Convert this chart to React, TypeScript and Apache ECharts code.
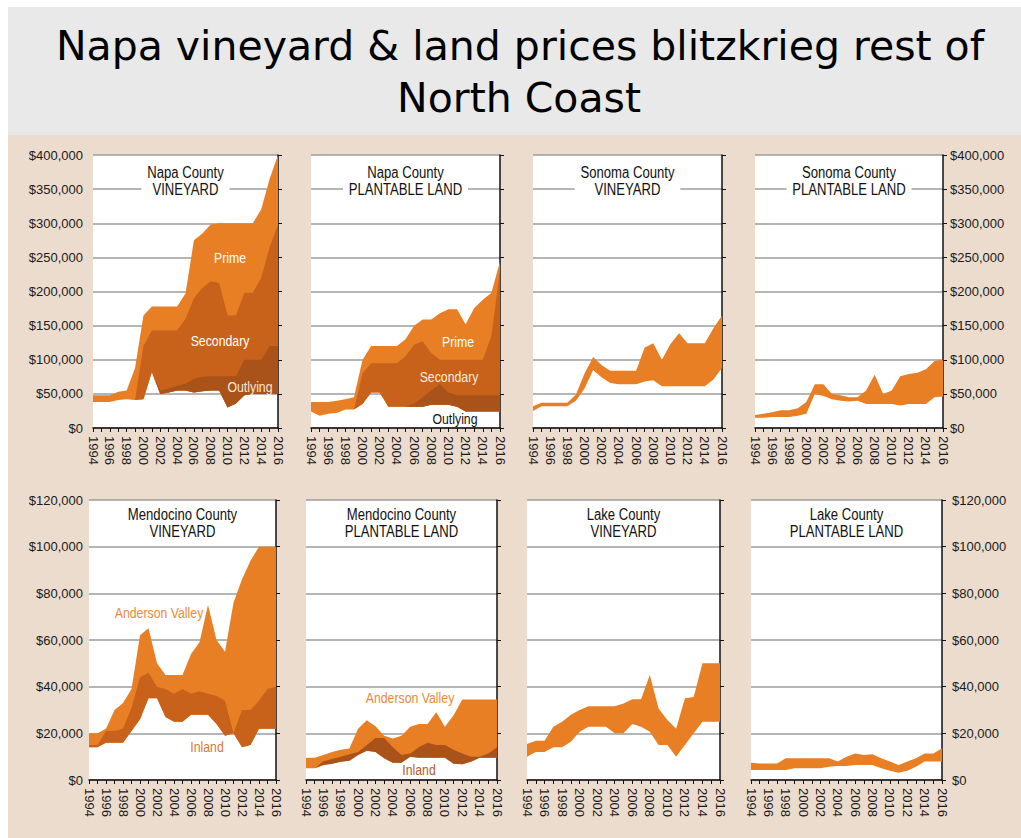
import React, { useEffect, useRef } from 'react';
import * as echarts from 'echarts';

// ---------- categories ----------
const YEARS = ['1994', '1995', '1996', '1997', '1998', '1999', '2000', '2001', '2002', '2003', '2004', '2005', '2006', '2007', '2008', '2009', '2010', '2011', '2012', '2013', '2014', '2015', '2016'];

// ---------- values (thousands of dollars per acre) ----------
// Napa County vineyard
const napaVinFloor = [38, 38, 38, 41, 42, 41, 42, 82, 50, 52, 55, 55, 52, 54, 55, 55, 30, 36, 48, 50, 50, 50, 50];
const napaVinPrimeTop = [48, 48, 48, 53, 55, 88, 165, 178, 178, 178, 178, 197, 275, 285, 298, 300, 300, 300, 300, 300, 320, 365, 400];
const napaVinSecondaryTop = [38, 38, 38, 41, 42, 41, 120, 143, 143, 143, 143, 160, 190, 205, 215, 213, 165, 165, 198, 198, 220, 265, 298];
const napaVinOutlyingTop = [38, 38, 38, 41, 42, 41, 42, 82, 55, 58, 62, 65, 72, 75, 76, 76, 76, 76, 100, 100, 100, 120, 120];

// Napa County plantable land
const napaLandFloor = [24, 18, 21, 22, 27, 27, 35, 52, 52, 31, 31, 31, 31, 31, 34, 34, 34, 31, 24, 24, 24, 24, 24];
const napaLandPrimeTop = [38, 38, 38, 40, 42, 45, 100, 120, 120, 120, 120, 130, 150, 159, 159, 168, 174, 174, 152, 176, 188, 198, 244];
const napaLandSecondaryTop = [24, 18, 21, 22, 27, 27, 80, 95, 95, 95, 95, 105, 122, 127, 110, 100, 100, 100, 100, 100, 100, 135, 231];
const napaLandOutlyingTop = [24, 18, 21, 22, 27, 27, 35, 52, 52, 31, 31, 31, 36, 45, 55, 64, 52, 48, 48, 48, 48, 48, 48];

// Sonoma County vineyard
const sonomaVinLow = [25, 32, 32, 32, 32, 40, 58, 85, 74, 66, 64, 64, 64, 68, 70, 61, 61, 61, 61, 61, 61, 71, 88];
const sonomaVinHigh = [32, 37, 37, 37, 37, 49, 80, 104, 92, 84, 84, 84, 84, 118, 124, 100, 123, 139, 124, 124, 124, 146, 165];

// Sonoma County plantable land
const sonomaLandLow = [15, 15, 16, 16, 16, 18, 21, 50, 47, 42, 40, 39, 40, 35, 35, 35, 35, 33, 35, 35, 35, 45, 46];
const sonomaLandHigh = [19, 21, 23, 26, 26, 29, 38, 64, 64, 50, 48, 45, 45, 55, 78, 50, 55, 76, 79, 81, 86, 98, 100];

// Mendocino County vineyard
const mendoVinFloor = [14, 14, 16, 16, 16, 21, 26, 35, 35, 27, 25, 25, 28, 28, 28, 24, 19, 20, 14, 15, 22, 22, 22];
const mendoVinAndersonTop = [20, 20, 22, 30, 33, 39, 62, 65, 50, 45, 45, 45, 54, 59, 75, 60, 55, 76, 86, 94, 100, 100, 100];
const mendoVinInlandTop = [15, 15, 21, 21, 22, 31, 44, 46, 40, 39, 37, 39, 37, 38, 37, 36, 34, 20, 30, 30, 34, 39, 40];

// Mendocino County plantable land
const mendoLandFloor = [5, 5, 6.4, 7, 7.8, 8.3, 10.7, 12.5, 12, 9.3, 7.4, 7.4, 10, 9.5, 9.5, 9.5, 9.5, 7, 6.8, 7.8, 9.5, 9.5, 9.5];
const mendoLandAndersonTop = [9.5, 9.5, 10.7, 12, 13, 13.5, 22, 25.6, 23, 19, 17.8, 19, 22.8, 24, 24, 29, 22.8, 27.8, 34.5, 34.5, 34.5, 34.5, 34.5];
const mendoLandInlandTop = [5, 5, 8, 9, 10, 11, 12, 15, 18, 18, 14, 10.7, 11.4, 14, 16, 15, 15, 13, 11.4, 10, 10, 11.4, 14];

// Lake County vineyard
const lakeVinLow = [10, 12, 12, 14, 14, 16.4, 20.7, 22.8, 22.8, 22.8, 20, 20, 24, 22.8, 20.7, 15, 15, 10, 15, 20, 25, 25, 25];
const lakeVinHigh = [15.4, 16.8, 16.8, 22.8, 25, 28, 30, 31.6, 31.6, 31.6, 31.6, 32.8, 34.6, 34.6, 45, 30.6, 25.7, 22, 35, 35.6, 50, 50, 50];

// Lake County plantable land
const lakeLandLow = [4.3, 4.3, 4.3, 4.3, 4.3, 5, 5, 5, 5, 5.7, 6, 6, 6.4, 6.4, 6.4, 5, 4, 3.1, 4, 5.7, 7.9, 7.9, 7.9];
const lakeLandHigh = [7.4, 7.1, 7.1, 7.1, 9.3, 9.3, 9.3, 9.3, 9.3, 9.3, 7.9, 10, 11.4, 10.7, 11, 9.3, 7.9, 6.4, 7.9, 9.3, 11.4, 11.4, 13.6];

// ---------- axis scales ----------
const TOP_MAX = 400;
const TOP_INTERVAL = 50;
const BOTTOM_MAX = 120;
const BOTTOM_INTERVAL = 20;

// ---------- styles ----------
const LIGHT = '#E97F25';
const MEDIUM = '#C8611A';
const DARK = '#A9531A';
const BEIGE = '#ECDCCD';
const TITLE_GREY = '#E9E9E9';
const SANS = '"Liberation Sans", Arial, sans-serif';
const CONDENSE = 0.82;

type Band = { low: number[]; high: number[]; color: string };
type Panel = {
  title: string;
  left: number; top: number; width: number; height: number;
  max: number; interval: number;
  labels: 'left' | 'right' | 'none';
  labelMargin: number;
  bands: Band[];
};

const PANELS: Panel[] = [
  {
    title: 'Napa County\nVINEYARD', left: 93, top: 155, width: 185, height: 273,
    max: TOP_MAX, interval: TOP_INTERVAL, labels: 'left', labelMargin: 10,
    bands: [
      { low: napaVinFloor, high: napaVinPrimeTop, color: LIGHT },
      { low: napaVinFloor, high: napaVinSecondaryTop, color: MEDIUM },
      { low: napaVinFloor, high: napaVinOutlyingTop, color: DARK },
    ],
  },
  {
    title: 'Napa County\nPLANTABLE LAND', left: 311, top: 155, width: 189, height: 273,
    max: TOP_MAX, interval: TOP_INTERVAL, labels: 'none', labelMargin: 8,
    bands: [
      { low: napaLandFloor, high: napaLandPrimeTop, color: LIGHT },
      { low: napaLandFloor, high: napaLandSecondaryTop, color: MEDIUM },
      { low: napaLandFloor, high: napaLandOutlyingTop, color: DARK },
    ],
  },
  {
    title: 'Sonoma County\nVINEYARD', left: 533, top: 155, width: 189, height: 273,
    max: TOP_MAX, interval: TOP_INTERVAL, labels: 'none', labelMargin: 8,
    bands: [{ low: sonomaVinLow, high: sonomaVinHigh, color: LIGHT }],
  },
  {
    title: 'Sonoma County\nPLANTABLE LAND', left: 755, top: 155, width: 188, height: 273,
    max: TOP_MAX, interval: TOP_INTERVAL, labels: 'right', labelMargin: 7,
    bands: [{ low: sonomaLandLow, high: sonomaLandHigh, color: LIGHT }],
  },
  {
    title: 'Mendocino County\nVINEYARD', left: 89, top: 500, width: 187, height: 280,
    max: BOTTOM_MAX, interval: BOTTOM_INTERVAL, labels: 'left', labelMargin: 6,
    bands: [
      { low: mendoVinFloor, high: mendoVinAndersonTop, color: LIGHT },
      { low: mendoVinFloor, high: mendoVinInlandTop, color: MEDIUM },
    ],
  },
  {
    title: 'Mendocino County\nPLANTABLE LAND', left: 306, top: 500, width: 191, height: 280,
    max: BOTTOM_MAX, interval: BOTTOM_INTERVAL, labels: 'none', labelMargin: 8,
    bands: [
      { low: mendoLandFloor, high: mendoLandAndersonTop, color: LIGHT },
      { low: mendoLandFloor, high: mendoLandInlandTop, color: DARK },
    ],
  },
  {
    title: 'Lake County\nVINEYARD', left: 527, top: 500, width: 193, height: 280,
    max: BOTTOM_MAX, interval: BOTTOM_INTERVAL, labels: 'none', labelMargin: 8,
    bands: [{ low: lakeVinLow, high: lakeVinHigh, color: LIGHT }],
  },
  {
    title: 'Lake County\nPLANTABLE LAND', left: 751, top: 500, width: 191, height: 280,
    max: BOTTOM_MAX, interval: BOTTOM_INTERVAL, labels: 'right', labelMargin: 10,
    bands: [{ low: lakeLandLow, high: lakeLandHigh, color: LIGHT }],
  },
];

// annotation labels inside panels
const ANNOTATIONS = [
  { text: 'Prime', x: 230, y: 258, color: '#FFFFFF' },
  { text: 'Secondary', x: 220, y: 341, color: '#FFFFFF' },
  { text: 'Outlying', x: 250, y: 387, color: '#F6E7D6' },
  { text: 'Prime', x: 458, y: 342, color: '#FFFFFF' },
  { text: 'Secondary', x: 449, y: 377, color: '#F8EBDD' },
  { text: 'Outlying', x: 455, y: 419, color: '#111111' },
  { text: 'Anderson Valley', x: 159, y: 613, color: '#EC8A3A' },
  { text: 'Inland', x: 207, y: 747, color: '#DB7A36' },
  { text: 'Anderson Valley', x: 410, y: 698, color: '#EC8A3A' },
  { text: 'Inland', x: 419, y: 770, color: '#B3602E' },
];

const yFormatter = (v: number) => (v === 0 ? '$0' : '$' + v + ',000');

function buildOption() {
  const grid: any[] = [];
  const xAxis: any[] = [];
  const yAxis: any[] = [];
  const series: any[] = [];
  const graphic: any[] = [];

  graphic.push({ type: 'rect', z: -100, silent: true, shape: { x: 8, y: 7, width: 1013, height: 128 }, style: { fill: TITLE_GREY } });
  graphic.push({ type: 'rect', z: -100, silent: true, shape: { x: 8, y: 135, width: 1013, height: 703 }, style: { fill: BEIGE } });

  graphic.push({
    type: 'text', x: 520, y: 46, z: 100, silent: true,
    style: { text: 'Napa vineyard & land prices blitzkrieg rest of', font: '41px "DejaVu Sans"', fill: '#000', align: 'center', verticalAlign: 'middle', textAlign: 'center', textVerticalAlign: 'middle' },
  });
  graphic.push({
    type: 'text', x: 519, y: 98, z: 100, silent: true,
    style: { text: 'North Coast', font: '41px "DejaVu Sans"', fill: '#000', align: 'center', verticalAlign: 'middle', textAlign: 'center', textVerticalAlign: 'middle' },
  });

  PANELS.forEach((p, i) => {
    grid.push({ left: p.left, top: p.top, width: p.width, height: p.height, show: true, backgroundColor: '#FFFFFF', borderWidth: 0, containLabel: false });
    xAxis.push({
      gridIndex: i, type: 'category', data: YEARS, boundaryGap: false,
      axisLine: { show: true, lineStyle: { color: '#111', width: 1.5 } },
      axisTick: { show: true, interval: 0, length: 4, lineStyle: { color: '#111', width: 1 } },
      axisLabel: { interval: 1, rotate: -90, margin: 8, fontFamily: SANS, fontSize: 13, color: '#1a1a1a' },
      splitLine: { show: false },
    });
    const mainY = yAxis.length;
    yAxis.push({
      gridIndex: i, type: 'value', min: 0, max: p.max, interval: p.interval, position: 'right',
      axisLine: { show: true, lineStyle: { color: '#111', width: 1.5 } },
      axisTick: { show: true, inside: false, length: 4, lineStyle: { color: '#111', width: 1 } },
      axisLabel: { show: p.labels === 'right', margin: p.labelMargin, formatter: yFormatter, fontFamily: SANS, fontSize: 13, color: '#1a1a1a' },
      splitLine: { show: true, lineStyle: { color: '#9C9C9C', width: 1.5 } },
    });
    if (p.labels === 'left') {
      yAxis.push({
        gridIndex: i, type: 'value', min: 0, max: p.max, interval: p.interval, position: 'left',
        axisLine: { show: false }, axisTick: { show: false }, splitLine: { show: false },
        axisLabel: { show: true, margin: p.labelMargin, formatter: yFormatter, fontFamily: SANS, fontSize: 13, color: '#1a1a1a' },
      });
    }
    p.bands.forEach((b, j) => {
      const stack = 'panel' + i + 'band' + j;
      series.push({
        type: 'line', xAxisIndex: i, yAxisIndex: mainY, stack, data: b.low,
        symbol: 'none', showSymbol: false, silent: true, lineStyle: { opacity: 0, width: 0 },
      });
      series.push({
        type: 'line', xAxisIndex: i, yAxisIndex: mainY, stack,
        data: b.high.map((h, k) => Math.round((h - b.low[k]) * 1000) / 1000),
        symbol: 'none', showSymbol: false, silent: true,
        lineStyle: { opacity: 0, width: 0 },
        areaStyle: { color: b.color, opacity: 1 },
      });
    });

    const cx = p.left + p.width / 2;
    const cy = p.top + (p.max === TOP_MAX ? 26 : 23);
    graphic.push({
      type: 'text', x: cx, y: cy, z: 100, silent: true, scaleX: CONDENSE,
      style: {
        text: p.title, font: '16px ' + SANS, fill: '#111', lineHeight: 17,
        align: 'center', verticalAlign: 'middle', textAlign: 'center', textVerticalAlign: 'middle',
        backgroundColor: '#FFFFFF', padding: [1, 7],
      },
    });
  });

  ANNOTATIONS.forEach((a) => {
    graphic.push({
      type: 'text', x: a.x, y: a.y, z: 100, silent: true, scaleX: CONDENSE,
      style: { text: a.text, font: '15px ' + SANS, fill: a.color, align: 'center', verticalAlign: 'middle', textAlign: 'center', textVerticalAlign: 'middle' },
    });
  });

  return {
    animation: false,
    backgroundColor: '#FFFFFF',
    grid, xAxis, yAxis, series, graphic,
  };
}

export default function App() {
  const ref = useRef<HTMLDivElement>(null);
  useEffect(() => {
    if (!ref.current) return;
    const chart = echarts.init(ref.current, undefined, { renderer: 'svg' });
    chart.setOption(buildOption() as any);
    return () => chart.dispose();
  }, []);
  return (
    <div
      ref={ref}
      style={{ position: 'fixed', left: 0, top: 0, width: 1021, height: 838, background: '#fff' }}
    />
  );
}
